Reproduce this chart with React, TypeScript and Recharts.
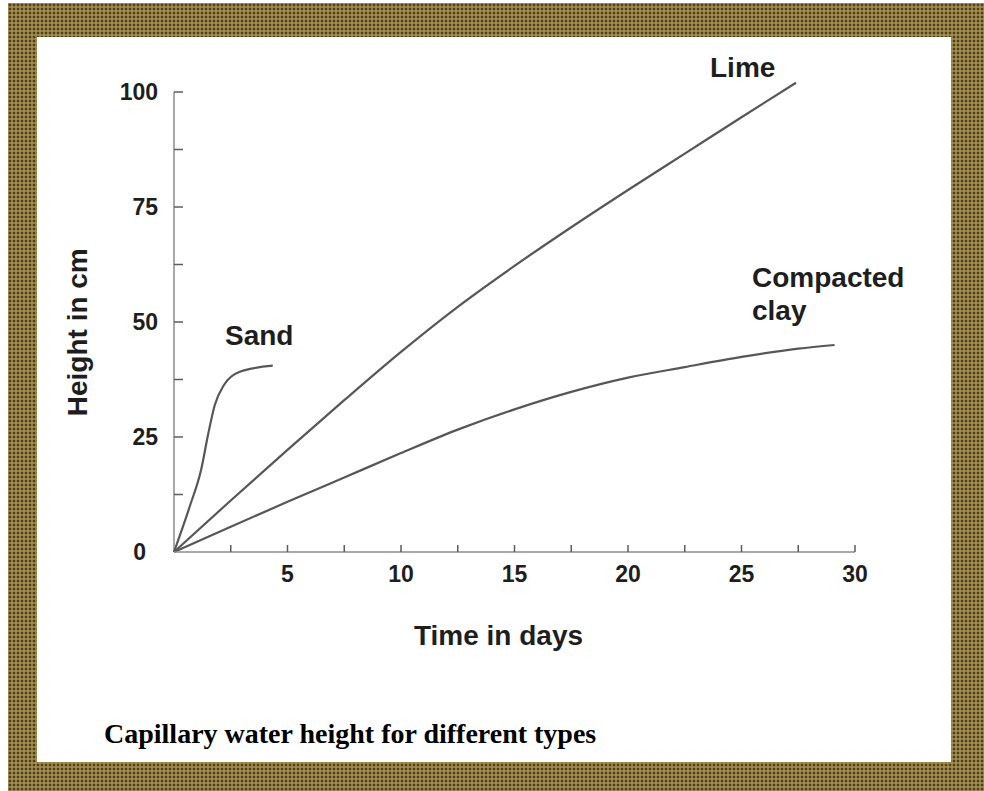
import { Label, Line, LineChart, ReferenceLine, XAxis, YAxis } from "recharts";

// readings taken off the original figure (days, cm)
const sand = [
  { day: 0, height: 0 },
  { day: 0.7, height: 10 },
  { day: 1.2, height: 18 },
  { day: 1.5, height: 25.5 },
  { day: 1.8, height: 32 },
  { day: 2.2, height: 36.3 },
  { day: 2.9, height: 39.2 },
  { day: 4.35, height: 40.5 },
];

const lime = [
  { day: 0, height: 0 },
  { day: 2.5, height: 11.2 },
  { day: 5, height: 22.2 },
  { day: 7.5, height: 33 },
  { day: 10, height: 43.5 },
  { day: 12.5, height: 53.3 },
  { day: 15, height: 62.2 },
  { day: 17.5, height: 70.6 },
  { day: 20, height: 78.7 },
  { day: 22.5, height: 86.6 },
  { day: 25, height: 94.5 },
  { day: 27.4, height: 102 },
];

const clay = [
  { day: 0, height: 0 },
  { day: 2.5, height: 5.5 },
  { day: 5, height: 10.9 },
  { day: 7.5, height: 16.2 },
  { day: 10, height: 21.5 },
  { day: 12.5, height: 26.6 },
  { day: 15, height: 31 },
  { day: 17.5, height: 34.8 },
  { day: 20, height: 37.9 },
  { day: 22.5, height: 40.2 },
  { day: 25, height: 42.4 },
  { day: 27.5, height: 44.2 },
  { day: 29.1, height: 45 },
];

const dayTicks = [2.5, 5, 7.5, 10, 12.5, 15, 17.5, 20, 22.5, 25, 27.5, 30];
const dayLabels = [5, 10, 15, 20, 25, 30];
const heightTicks = [0, 12.5, 25, 37.5, 50, 62.5, 75, 87.5, 100];
const heightLabels = [0, 25, 50, 75, 100];

const SANS = '"Liberation Sans", Arial, Helvetica, sans-serif';
const SERIF = '"Liberation Serif", "Times New Roman", Times, serif';
const INK = "#1e1e1e";
const CURVE = "#575757";
const AXIS = "#8c8c8c";

function DayTick({ x, y, payload }: any) {
  const v = payload.value;
  return (
    <g>
      <line x1={x} x2={x} y1={y} y2={y - 7} stroke="#5c5c5c" strokeWidth={1.5} />
      {dayLabels.includes(v) && (
        <text
          x={x}
          y={y + 30}
          textAnchor="middle"
          fontFamily={SANS}
          fontWeight="bold"
          fontSize={23}
          fill={INK}
        >
          {v}
        </text>
      )}
    </g>
  );
}

function HeightTick({ x, y, payload }: any) {
  const v = payload.value;
  return (
    <g>
      {v > 0 && <line x1={x} x2={x + 9} y1={y} y2={y} stroke="#5c5c5c" strokeWidth={1.5} />}
      {heightLabels.includes(v) && (
        <text
          x={v === 0 ? x - 28 : x - 16}
          y={y + 8}
          textAnchor="end"
          fontFamily={SANS}
          fontWeight="bold"
          fontSize={23}
          fill={INK}
        >
          {v}
        </text>
      )}
    </g>
  );
}

const note = (left: number, top: number) => ({
  position: "absolute" as const,
  left,
  top,
  fontFamily: SANS,
  fontWeight: "bold" as const,
  fontSize: 28,
  lineHeight: "28px",
  color: INK,
  whiteSpace: "nowrap" as const,
});

export default function App() {
  return (
    <div
      style={{
        position: "absolute",
        left: 8,
        top: 3,
        width: 976,
        height: 788,
        backgroundColor: "#8a7f48",
        backgroundImage:
          "radial-gradient(#4a3d22 0.7px, transparent 0.9px), radial-gradient(#b08c40 0.7px, transparent 0.9px)",
        backgroundSize: "4px 4px",
        backgroundPosition: "0 0, 2px 2px",
      }}
    >
      <div
        style={{
          position: "absolute",
          left: 29,
          top: 34,
          width: 914,
          height: 725,
          background: "#fff",
        }}
      >
        <LineChart width={914} height={725} margin={{ top: 43.5, right: 96, bottom: 150, left: 0 }}>
          <XAxis
            type="number"
            dataKey="day"
            domain={[0, 30]}
            ticks={dayTicks}
            interval={0}
            tickSize={0}
            tickMargin={0}
            tickLine={false}
            tick={DayTick}
            stroke={AXIS}
            strokeWidth={1.5}
            height={60}
          >
            <Label
              content={({ viewBox }: any) => (
                <text
                  x={viewBox.x + viewBox.width / 2 - 16}
                  y={viewBox.y + 93}
                  textAnchor="middle"
                  fontFamily={SANS}
                  fontWeight="bold"
                  fontSize={28}
                  fill={INK}
                >
                  Time in days
                </text>
              )}
            />
          </XAxis>
          <YAxis
            type="number"
            dataKey="height"
            domain={[0, 102.5]}
            ticks={heightTicks}
            interval={0}
            tickSize={0}
            tickMargin={0}
            tickLine={false}
            axisLine={false}
            tick={HeightTick}
            width={137}
          >
            <Label
              content={({ viewBox }: any) => {
                const cy = viewBox.y + viewBox.height / 2 + 16;
                return (
                  <text
                    x={50}
                    y={cy}
                    transform={`rotate(-90 50 ${cy})`}
                    textAnchor="middle"
                    fontFamily={SANS}
                    fontWeight="bold"
                    fontSize={28}
                    fill={INK}
                  >
                    Height in cm
                  </text>
                );
              }}
            />
          </YAxis>
          <ReferenceLine
            segment={[
              { x: 0, y: 0 },
              { x: 0, y: 100 },
            ]}
            stroke={AXIS}
            strokeWidth={1.5}
          />
          <Line data={sand} dataKey="height" type="monotone" stroke={CURVE} strokeWidth={2.2} dot={false} isAnimationActive={false} />
          <Line data={lime} dataKey="height" type="monotone" stroke={CURVE} strokeWidth={2.2} dot={false} isAnimationActive={false} />
          <Line data={clay} dataKey="height" type="monotone" stroke={CURVE} strokeWidth={2.2} dot={false} isAnimationActive={false} />
        </LineChart>

        <div style={note(673, 17)}>Lime</div>
        <div style={note(188, 285)}>Sand</div>
        <div style={note(715, 227)}>Compacted</div>
        <div style={note(715, 260)}>clay</div>

        <div
          style={{
            position: "absolute",
            left: 67,
            top: 683,
            fontFamily: SERIF,
            fontWeight: "bold",
            fontSize: 28,
            lineHeight: "28px",
            color: "#000",
            whiteSpace: "nowrap",
          }}
        >
          Capillary water height for different types
        </div>
      </div>
    </div>
  );
}
